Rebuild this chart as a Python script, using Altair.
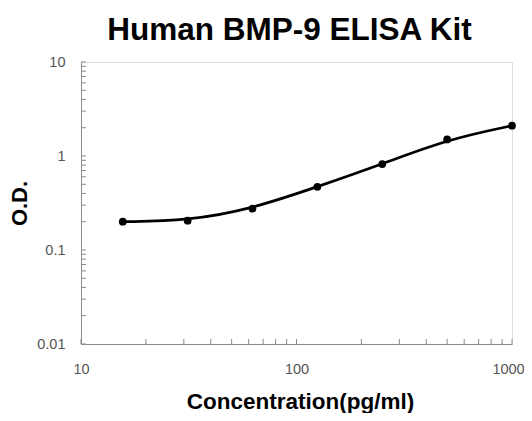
import altair as alt
import pandas as pd

# Data
conc = [15.625, 31.25, 62.5, 125, 250, 500, 1000]
od = [0.20, 0.205, 0.275, 0.47, 0.82, 1.50, 2.10]

x_major = [10, 100, 1000]
y_major = [0.01, 0.1, 1, 10]
x_ticks = [10, 20, 30, 40, 50, 60, 70, 80, 90,
           100, 200, 300, 400, 500, 600, 700, 800, 900, 1000]
y_ticks = [0.01, 0.02, 0.03, 0.04, 0.05, 0.06, 0.07, 0.08, 0.09,
           0.1, 0.2, 0.3, 0.4, 0.5, 0.6, 0.7, 0.8, 0.9,
           1, 2, 3, 4, 5, 6, 7, 8, 9, 10]

W, H = 431, 282
FONT = "Liberation Sans"
AXIS_GRAY = "#8a8a8a"

df = pd.DataFrame({"conc": conc, "od": od})
xt = pd.DataFrame({"conc": x_ticks})
yt = pd.DataFrame({"od": y_ticks})

xscale = alt.Scale(type="log", domain=[10, 1000], nice=False)
yscale = alt.Scale(type="log", domain=[0.01, 10], nice=False)

x_axis = alt.Axis(
    values=x_major, format="~g", ticks=False, grid=False, labelFlush=False,
    domainColor=AXIS_GRAY, domainWidth=1,
    labelColor="#555555", labelFont=FONT, labelFontSize=14.5, labelPadding=18,
    labelOffset={"condition": {"test": "datum.value >= 1000", "value": -4},
                 "value": 0},
    title="Concentration(pg/ml)", titleFont=FONT, titleFontSize=22.5,
    titleFontWeight="bold", titleColor="black",
    titleX=219, titleY=64, titleBaseline="alphabetic", titleAlign="center",
)
y_axis = alt.Axis(
    values=y_major, format="~g", ticks=False, grid=False, labelFlush=False,
    domainColor=AXIS_GRAY, domainWidth=1,
    labelColor="#555555", labelFont=FONT, labelFontSize=14.5, labelPadding=16,
    title="O.D.", titleFont=FONT, titleFontSize=22,
    titleFontWeight="bold", titleColor="black",
    titleX=-55, titleY=141, titleBaseline="alphabetic", titleAlign="center",
    titleAngle=270,
)

X = alt.X("conc:Q", scale=xscale, axis=x_axis, title="Concentration(pg/ml)")
Y = alt.Y("od:Q", scale=yscale, axis=y_axis, title="O.D.")

line = alt.Chart(df).mark_line(
    interpolate="basis", color="black", strokeWidth=2.8
).encode(x=X, y=Y)

points = alt.Chart(df).mark_circle(size=60, color="black", opacity=1).encode(
    x=X, y=Y
)

xtick_marks = alt.Chart(xt).mark_rule(color=AXIS_GRAY, strokeWidth=1).encode(
    x=X,
    y=alt.value(H),
    y2=alt.value(H - 5),
)

ytick_marks = alt.Chart(yt).mark_rule(color=AXIS_GRAY, strokeWidth=1).encode(
    y=Y,
    x=alt.value(0),
    x2=alt.value(5),
)

chart = alt.layer(line, points, xtick_marks, ytick_marks).properties(
    width=W, height=H,
    title=alt.Title(
        "Human BMP-9 ELISA Kit", font=FONT, fontSize=31.5, fontWeight="bold",
        color="black", anchor="middle", offset=8, dx=-7,
    ),
    autosize=alt.AutoSizeParams(type="none"),
    padding={"left": 73, "top": 54, "right": 12, "bottom": 69},
).configure_view(stroke=None).configure(background="white")

chart.save("out.html", embed_options={"renderer": "svg", "actions": False})
